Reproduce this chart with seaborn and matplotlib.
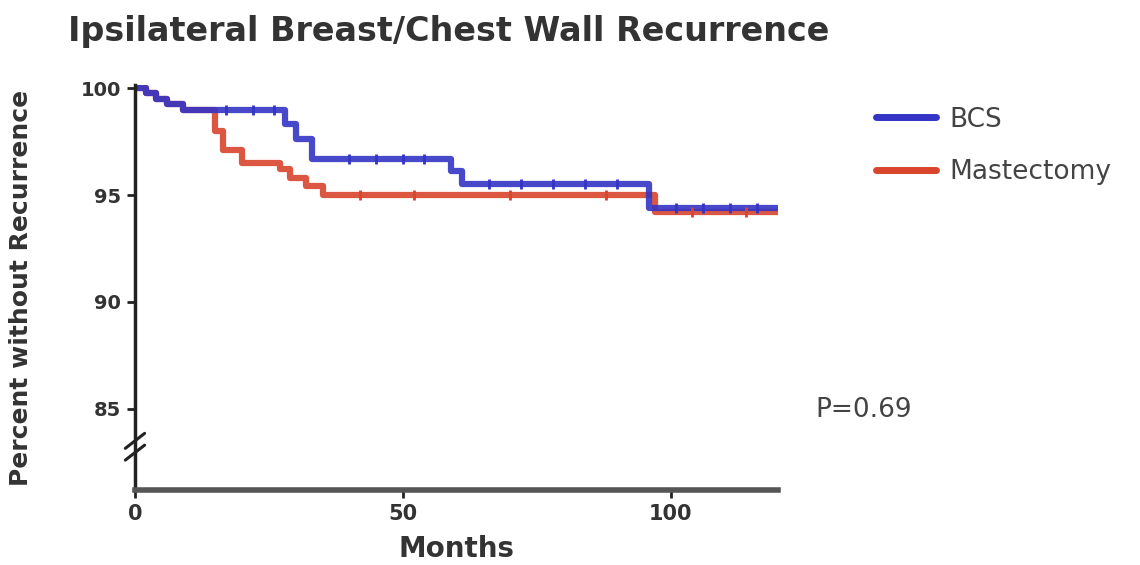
import numpy as np
import pandas as pd
import matplotlib
matplotlib.use("Agg")
import matplotlib.pyplot as plt
import seaborn as sns

# Kaplan-Meier step data (months, percent without recurrence)
bcs_months = [0, 2, 4, 6, 9, 28, 30, 33, 59, 61, 96, 120]
bcs_pct = [100, 99.75, 99.5, 99.25, 99.0, 98.3, 97.6, 96.7, 96.1, 95.5, 94.4, 94.4]

mast_months = [0, 2, 4, 6, 9, 15, 16.5, 20, 27, 29, 32, 35, 97, 120]
mast_pct = [100, 99.75, 99.5, 99.25, 99.0, 98.0, 97.1, 96.5, 96.2, 95.8, 95.4, 95.0, 94.2, 94.2]

# Censored observations (tick marks on the curves)
bcs_cens_months = [17, 22, 26, 40, 45, 50, 54, 66, 72, 78, 84, 90, 101, 106, 111, 116]
mast_cens_months = [42, 52, 70, 88, 104, 114]

groups = ["BCS", "Mastectomy"]
colors = {"BCS": "#3434c6", "Mastectomy": "#d8452c"}
y_ticks = [85, 90, 95, 100]
x_ticks = [0, 50, 100]


def surv_at(months, pct, t):
    idx = np.searchsorted(months, t, side="right") - 1
    return pct[idx]


df = pd.concat([
    pd.DataFrame({"Months": mast_months, "Pct": mast_pct, "Group": "Mastectomy"}),
    pd.DataFrame({"Months": bcs_months, "Pct": bcs_pct, "Group": "BCS"}),
])

sns.set_style("ticks")
fig = plt.figure(figsize=(11.4, 5.65), dpi=100)
ax = fig.add_axes([0.1184, 0.1327, 0.5640, 0.7170])

for g in ["Mastectomy", "BCS"]:
    sub = df[df["Group"] == g]
    sns.lineplot(data=sub, x="Months", y="Pct", ax=ax, color=colors[g],
                 drawstyle="steps-post", linewidth=4.5, alpha=0.9,
                 label=g, legend=False, errorbar=None, estimator=None)

for g, cm, m, p in [("Mastectomy", mast_cens_months, mast_months, mast_pct),
                    ("BCS", bcs_cens_months, bcs_months, bcs_pct)]:
    ys = [surv_at(m, p, t) for t in cm]
    ax.scatter(cm, ys, marker="|", s=60, linewidths=2, color=colors[g], zorder=4)

ax.set_xlim(0, 120)
ax.set_ylim(81.2, 100.15)
ax.set_xticks(x_ticks)
ax.set_yticks(y_ticks)
ax.set_xticklabels([str(v) for v in x_ticks], fontsize=15, fontweight="bold", color="#333333")
ax.set_yticklabels([str(v) for v in y_ticks], fontsize=14, fontweight="bold", color="#333333")
ax.tick_params(axis="both", length=6, width=2, color="#222222", pad=4)
for s in ["top", "right"]:
    ax.spines[s].set_visible(False)
ax.spines["left"].set_linewidth(2.5)
ax.spines["left"].set_color("#222222")
ax.spines["bottom"].set_linewidth(4)
ax.spines["bottom"].set_color("#555555")

# Axis break marks on the y axis
for dy in (0.0, 0.55):
    ax.plot([-1.8, 1.8], [82.6 + dy, 83.3 + dy], color="#222222", lw=2.2,
            clip_on=False, zorder=5)

ax.set_xlabel("Months", fontsize=20, fontweight="bold", color="#333333", labelpad=8)
ax.set_ylabel("Percent without Recurrence", fontsize=18, fontweight="bold",
              color="#333333", labelpad=34)

fig.text(0.06, 0.945, "Ipsilateral Breast/Chest Wall Recurrence", fontsize=24,
         fontweight="bold", color="#333333", ha="left", va="center")

leg = ax.legend(handles=[plt.Line2D([], [], color=colors["BCS"], lw=5),
                         plt.Line2D([], [], color=colors["Mastectomy"], lw=5)],
                labels=groups, loc="upper left", bbox_to_anchor=(1.115, 1.005),
                frameon=False, fontsize=19, handlelength=2.3, labelspacing=1.0,
                handletextpad=0.5)
for t in leg.get_texts():
    t.set_color("#444444")

fig.text(0.715, 0.274, "P=0.69", fontsize=19, color="#444444", ha="left", va="center")

fig.savefig("out.png", dpi=100, facecolor="white")
